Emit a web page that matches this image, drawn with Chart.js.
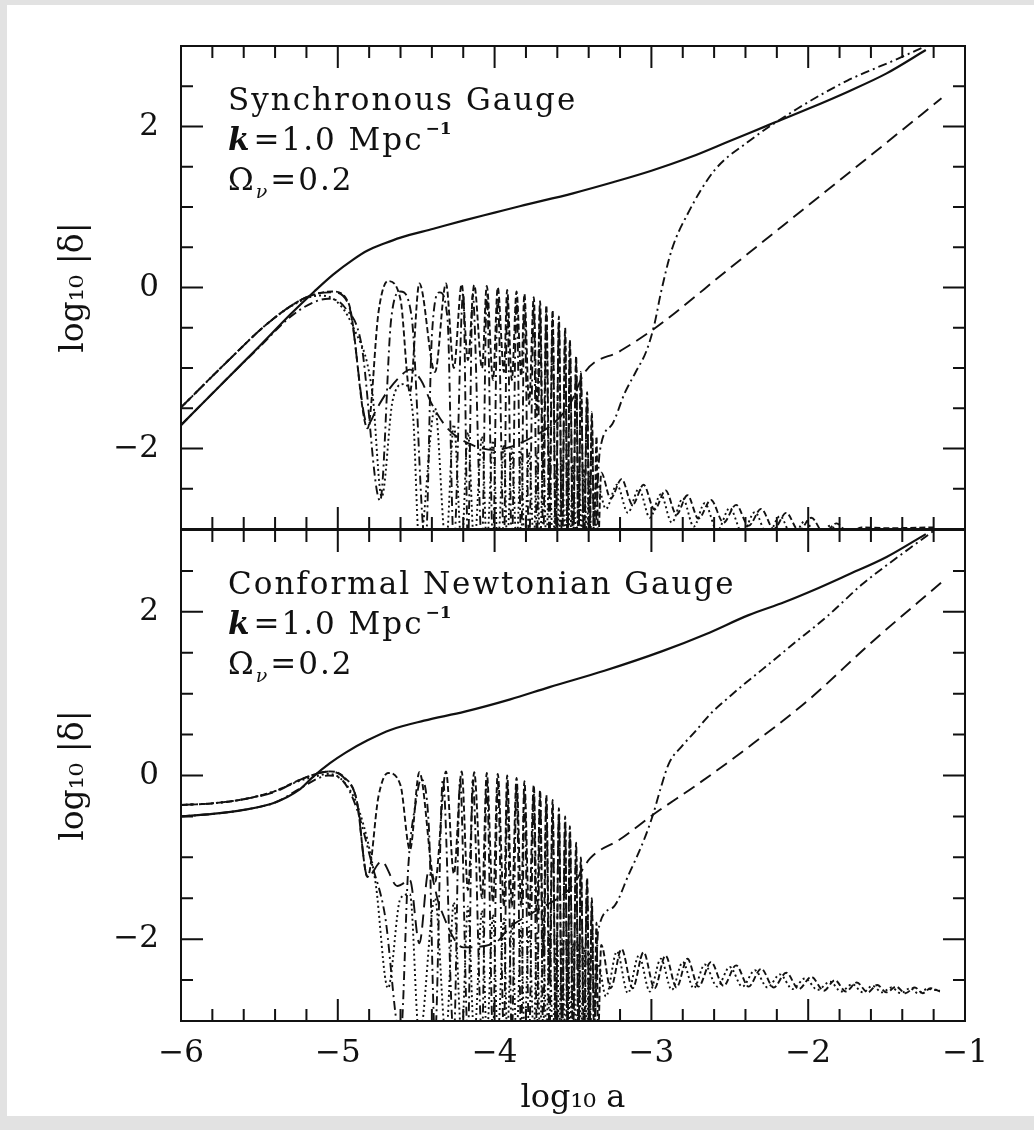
<!DOCTYPE html>
<html>
<head>
<meta charset="utf-8">
<title>log10 |delta| vs log10 a</title>
<script src="https://cdn.jsdelivr.net/npm/chart.js@4.4.0/dist/chart.umd.min.js"></script>
<style>
html, body { margin: 0; padding: 0; background: #e2e2e2; }
#sheet { position: absolute; left: 7px; top: 5px; width: 1027px; height: 1111px; background: #fff; }
canvas { position: absolute; left: 0; top: 0; }
</style>
</head>
<body>
<div id="sheet"></div>
<canvas id="synChart" width="1034" height="1130"></canvas>
<canvas id="conChart" width="1034" height="1130"></canvas>
<script>
// axis ticks
const xTickValues = [-6, -5, -4, -3, -2, -1];
const xMinorTicks = [-5.8, -5.6, -5.4, -5.2, -4.8, -4.6, -4.4, -4.2, -3.8, -3.6, -3.4, -3.2, -2.8, -2.6, -2.4, -2.2, -1.8, -1.6, -1.4, -1.2];
const yTickValues = [-2, 0, 2];
const yMinorTicks = [-2.5, -1.5, -1, -0.5, 0.5, 1, 1.5, 2.5];

// labels
const panelTitles = ['Synchronous Gauge', 'Conformal Newtonian Gauge'];
const waveNumberText = ['k', '=1.0 Mpc', '\u22121'];
const omegaText = ['\u03A9', '\u03BD', '=0.2'];
const yTitle = 'log\u2081\u2080 |\u03B4|';
const xTitle = 'log\u2081\u2080 a';

// top panel: synchronous gauge  [log10 a, log10 |delta|]
const synCdm = [[-6,-1.71],[-5.7,-1.12],[-5.5,-0.73],[-5.3,-0.33],[-5.15,-0.05],[-5.03,0.16],[-4.9,0.35],[-4.81,0.46],[-4.7,0.55],[-4.6,0.62],[-4.39,0.73],[-4.2,0.83],[-4.0,0.93],[-3.84,1.01],[-3.5,1.17],[-3.24,1.31],[-3.0,1.45],[-2.75,1.62],[-2.5,1.82],[-2.25,2.02],[-2.0,2.22],[-1.75,2.43],[-1.5,2.66],[-1.25,2.95]];

const synPhoton = [[-6,-1.49],[-5.7,-0.91],[-5.45,-0.45],[-5.25,-0.17],[-5.12,-0.07],[-5.03,-0.05],[-4.93,-0.2],[-4.81,-1.75],[-4.74,-0.3],[-4.68,0.08],[-4.6,-0.15],[-4.54,-1.3],[-4.48,0.05],[-4.38,-1.05],[-4.31,0.05],[-4.26,-1.0],[-4.21,0.04],[-4.17,-0.9],[-4.13,0.03],[-4.08,-1.0],[-4.05,0.02],[-4.01,-1.15],[-3.98,0.0],[-3.94,-1.05],[-3.92,-0.03],[-3.89,-1.15],[-3.86,-0.05],[-3.83,-1.1],[-3.81,-0.08],[-3.78,-1.45],[-3.75,-0.12],[-3.73,-1.6],[-3.71,-0.17],[-3.69,-2.3],[-3.67,-0.22],[-3.65,-2.6],[-3.63,-0.28],[-3.61,-3.2],[-3.59,-0.36],[-3.57,-3.2],[-3.55,-0.5],[-3.535,-3.2],[-3.52,-0.65],[-3.5,-3.2],[-3.48,-0.85],[-3.465,-3.2],[-3.45,-1.05],[-3.43,-3.2],[-3.41,-1.3],[-3.395,-3.2],[-3.38,-1.55],[-3.365,-3.2],[-3.35,-1.85],[-3.34,-3.2],[-3.32,-2.3],[-3.26,-2.62],[-3.19,-2.38],[-3.12,-2.7],[-3.05,-2.45],[-2.98,-2.76],[-2.91,-2.52],[-2.84,-2.82],[-2.77,-2.58],[-2.7,-2.87],[-2.62,-2.64],[-2.54,-2.92],[-2.46,-2.7],[-2.38,-2.96],[-2.3,-2.75],[-2.22,-3.0],[-2.14,-2.8],[-2.06,-3.02],[-1.98,-2.86],[-1.9,-3.05],[-1.82,-2.93],[-1.74,-3.05],[-1.66,-2.98],[-1.5,-2.99],[-1.2,-2.98]];

const synBaryon = [[-6,-1.71],[-5.7,-1.12],[-5.5,-0.74],[-5.3,-0.36],[-5.15,-0.18],[-5.06,-0.14],[-4.95,-0.26],[-4.85,-0.7],[-4.73,-2.65],[-4.66,-0.4],[-4.6,-0.05],[-4.53,-0.35],[-4.44,-3.2],[-4.4,-0.6],[-4.35,-0.06],[-4.3,-0.4],[-4.26,-3.2],[-4.2,-0.07],[-4.17,-3.2],[-4.14,-0.08],[-4.08,-3.2],[-4.05,-0.1],[-4.01,-3.2],[-3.98,-0.12],[-3.94,-3.2],[-3.92,-0.14],[-3.89,-3.2],[-3.86,-0.16],[-3.83,-3.2],[-3.81,-0.2],[-3.78,-3.2],[-3.75,-0.24],[-3.73,-3.2],[-3.71,-0.28],[-3.69,-3.2],[-3.67,-0.33],[-3.65,-3.2],[-3.63,-0.4],[-3.61,-3.2],[-3.59,-0.48],[-3.57,-3.2],[-3.55,-0.6],[-3.535,-3.2],[-3.52,-0.75],[-3.5,-3.2],[-3.48,-0.95],[-3.465,-3.2],[-3.45,-1.15],[-3.43,-3.2],[-3.41,-1.4],[-3.395,-3.2],[-3.38,-1.65],[-3.365,-3.2],[-3.33,-2.05],[-3.25,-1.7],[-3.17,-1.31],[-3.1,-1.05],[-3.03,-0.78],[-2.98,-0.45],[-2.94,-0.07],[-2.87,0.47],[-2.77,0.91],[-2.6,1.45],[-2.39,1.8],[-2.07,2.22],[-1.75,2.57],[-1.43,2.84],[-1.25,3.0]];

const synNuMassless = [[-6,-1.49],[-5.7,-0.91],[-5.45,-0.45],[-5.25,-0.18],[-5.12,-0.1],[-5.05,-0.12],[-4.9,-0.5],[-4.78,-1.3],[-4.72,-2.6],[-4.65,-1.4],[-4.58,-1.2],[-4.52,-1.6],[-4.48,-3.2],[-4.38,-1.5],[-4.31,-3.2],[-4.26,-1.7],[-4.21,-3.2],[-4.17,-1.8],[-4.13,-3.2],[-4.08,-1.85],[-4.05,-3.2],[-4.01,-1.9],[-3.98,-3.2],[-3.94,-1.95],[-3.92,-3.2],[-3.89,-2.0],[-3.86,-3.2],[-3.83,-2.0],[-3.81,-3.2],[-3.78,-2.05],[-3.75,-3.2],[-3.73,-2.05],[-3.71,-3.2],[-3.69,-2.1],[-3.67,-3.2],[-3.65,-2.1],[-3.63,-3.2],[-3.6,-2.15],[-3.59,-3.2],[-3.57,-2.15],[-3.55,-3.2],[-3.53,-2.2],[-3.52,-3.2],[-3.5,-2.2],[-3.48,-3.2],[-3.46,-2.25],[-3.45,-3.2],[-3.43,-2.25],[-3.41,-3.2],[-3.4,-2.3],[-3.38,-3.2],[-3.35,-2.4],[-3.29,-2.75],[-3.22,-2.45],[-3.15,-2.8],[-3.08,-2.5],[-3.01,-2.86],[-2.94,-2.57],[-2.87,-2.92],[-2.8,-2.62],[-2.73,-2.97],[-2.66,-2.68],[-2.58,-3.02],[-2.5,-2.74],[-2.42,-3.05],[-2.34,-2.79],[-2.26,-3.08],[-2.18,-2.84],[-2.1,-3.1],[-2.02,-2.9],[-1.94,-3.1],[-1.86,-2.96],[-1.78,-3.1],[-1.7,-3.0],[-1.6,-3.05]];

const synNuMassive = [[-6,-1.49],[-5.7,-0.91],[-5.45,-0.45],[-5.25,-0.17],[-5.12,-0.07],[-5.03,-0.06],[-4.93,-0.22],[-4.81,-1.7],[-4.75,-1.5],[-4.69,-1.31],[-4.6,-1.1],[-4.54,-1.02],[-4.47,-1.15],[-4.4,-1.45],[-4.3,-1.75],[-4.15,-1.95],[-4.0,-2.02],[-3.9,-1.98],[-3.76,-1.86],[-3.62,-1.68],[-3.52,-1.45],[-3.42,-1.04],[-3.2,-0.79],[-2.98,-0.51],[-2.5,0.24],[-2.0,1.02],[-1.5,1.8],[-1.15,2.35]];

// bottom panel: conformal Newtonian gauge
const conCdm = [[-6,-0.5],[-5.8,-0.47],[-5.6,-0.42],[-5.4,-0.33],[-5.25,-0.18],[-5.16,-0.02],[-5.05,0.15],[-4.95,0.28],[-4.81,0.43],[-4.66,0.56],[-4.45,0.67],[-4.19,0.78],[-3.9,0.93],[-3.65,1.08],[-3.3,1.28],[-2.93,1.52],[-2.65,1.73],[-2.38,1.96],[-2.15,2.12],[-1.96,2.27],[-1.75,2.45],[-1.5,2.67],[-1.25,2.95]];

const conPhoton = [[-6,-0.36],[-5.8,-0.34],[-5.6,-0.29],[-5.4,-0.19],[-5.25,-0.06],[-5.12,0.03],[-5.05,0.05],[-4.96,-0.02],[-4.88,-0.3],[-4.81,-1.24],[-4.74,-0.25],[-4.68,0.03],[-4.6,-0.12],[-4.54,-0.91],[-4.48,0.04],[-4.38,-1.3],[-4.31,0.05],[-4.26,-1.2],[-4.21,0.05],[-4.17,-1.4],[-4.13,0.04],[-4.08,-1.5],[-4.05,0.03],[-4.01,-1.55],[-3.98,0.02],[-3.94,-1.6],[-3.92,0.0],[-3.89,-1.6],[-3.86,-0.03],[-3.83,-1.6],[-3.81,-0.07],[-3.78,-1.7],[-3.75,-0.12],[-3.73,-1.8],[-3.71,-0.18],[-3.69,-2.2],[-3.67,-0.24],[-3.65,-2.5],[-3.63,-0.3],[-3.61,-3.2],[-3.59,-0.4],[-3.57,-3.2],[-3.55,-0.5],[-3.535,-3.2],[-3.52,-0.62],[-3.5,-3.2],[-3.48,-0.82],[-3.465,-3.2],[-3.45,-1.0],[-3.43,-3.2],[-3.41,-1.25],[-3.395,-3.2],[-3.38,-1.5],[-3.365,-3.2],[-3.35,-1.8],[-3.34,-3.2],[-3.32,-2.07],[-3.26,-2.6],[-3.19,-2.12],[-3.12,-2.6],[-3.05,-2.16],[-2.98,-2.6],[-2.91,-2.2],[-2.84,-2.59],[-2.77,-2.24],[-2.7,-2.58],[-2.62,-2.28],[-2.54,-2.57],[-2.46,-2.32],[-2.38,-2.58],[-2.3,-2.36],[-2.22,-2.59],[-2.14,-2.41],[-2.06,-2.61],[-1.98,-2.46],[-1.9,-2.63],[-1.83,-2.5],[-1.76,-2.64],[-1.69,-2.53],[-1.62,-2.65],[-1.56,-2.56],[-1.5,-2.65],[-1.44,-2.58],[-1.38,-2.66],[-1.32,-2.59],[-1.27,-2.66],[-1.22,-2.6],[-1.16,-2.64]];

const conBaryon = [[-6,-0.5],[-5.8,-0.47],[-5.6,-0.42],[-5.4,-0.33],[-5.25,-0.17],[-5.12,-0.03],[-5.06,0.0],[-4.97,-0.06],[-4.88,-0.4],[-4.78,-1.1],[-4.7,-1.7],[-4.6,-3.2],[-4.55,-1.1],[-4.5,-0.3],[-4.47,-0.05],[-4.42,-0.6],[-4.38,-3.2],[-4.33,-0.05],[-4.26,-3.2],[-4.22,-0.05],[-4.17,-3.2],[-4.14,-0.06],[-4.08,-3.2],[-4.05,-0.07],[-4.01,-3.2],[-3.98,-0.08],[-3.94,-3.2],[-3.92,-0.1],[-3.89,-3.2],[-3.86,-0.13],[-3.83,-3.2],[-3.81,-0.17],[-3.78,-3.2],[-3.75,-0.22],[-3.73,-3.2],[-3.71,-0.28],[-3.69,-3.2],[-3.67,-0.34],[-3.65,-3.2],[-3.63,-0.4],[-3.61,-3.2],[-3.59,-0.5],[-3.57,-3.2],[-3.55,-0.6],[-3.535,-3.2],[-3.52,-0.72],[-3.5,-3.2],[-3.48,-0.92],[-3.465,-3.2],[-3.45,-1.1],[-3.43,-3.2],[-3.41,-1.35],[-3.395,-3.2],[-3.38,-1.6],[-3.365,-3.2],[-3.34,-1.9],[-3.25,-1.62],[-3.14,-1.19],[-3.05,-0.8],[-2.99,-0.48],[-2.94,-0.15],[-2.89,0.14],[-2.8,0.37],[-2.72,0.54],[-2.62,0.76],[-2.51,0.95],[-2.4,1.13],[-2.29,1.3],[-2.1,1.6],[-1.87,1.96],[-1.66,2.33],[-1.45,2.64],[-1.3,2.85],[-1.2,2.99]];

const conNuMassless = [[-6,-0.36],[-5.8,-0.34],[-5.6,-0.29],[-5.4,-0.19],[-5.25,-0.07],[-5.12,0.0],[-5.06,0.02],[-4.96,-0.08],[-4.86,-0.45],[-4.76,-1.3],[-4.68,-2.6],[-4.6,-1.5],[-4.54,-1.45],[-4.48,-3.2],[-4.38,-1.5],[-4.31,-3.2],[-4.26,-1.55],[-4.21,-3.2],[-4.17,-1.6],[-4.13,-3.2],[-4.08,-1.65],[-4.05,-3.2],[-4.01,-1.7],[-3.98,-3.2],[-3.94,-1.75],[-3.92,-3.2],[-3.89,-1.8],[-3.86,-3.2],[-3.83,-1.85],[-3.81,-3.2],[-3.78,-1.85],[-3.75,-3.2],[-3.73,-1.9],[-3.71,-3.2],[-3.69,-1.9],[-3.67,-3.2],[-3.65,-1.95],[-3.63,-3.2],[-3.6,-1.95],[-3.59,-3.2],[-3.57,-2.0],[-3.55,-3.2],[-3.53,-2.0],[-3.52,-3.2],[-3.5,-2.05],[-3.48,-3.2],[-3.46,-2.05],[-3.45,-3.2],[-3.43,-2.1],[-3.41,-3.2],[-3.4,-2.15],[-3.38,-3.2],[-3.34,-2.3],[-3.29,-2.7],[-3.22,-2.15],[-3.15,-2.66],[-3.08,-2.2],[-3.01,-2.64],[-2.94,-2.24],[-2.87,-2.62],[-2.8,-2.28],[-2.73,-2.6],[-2.66,-2.31],[-2.58,-2.58],[-2.5,-2.34],[-2.42,-2.58],[-2.34,-2.38],[-2.26,-2.59],[-2.18,-2.43],[-2.1,-2.61],[-2.02,-2.48],[-1.94,-2.62],[-1.86,-2.52],[-1.79,-2.64],[-1.72,-2.55],[-1.65,-2.65],[-1.59,-2.57],[-1.53,-2.65],[-1.47,-2.59],[-1.41,-2.66],[-1.35,-2.6],[-1.3,-2.66],[-1.24,-2.61],[-1.16,-2.63]];

const conNuMassive = [[-6,-0.36],[-5.8,-0.34],[-5.6,-0.29],[-5.4,-0.2],[-5.25,-0.06],[-5.12,0.03],[-5.05,0.05],[-4.95,-0.05],[-4.88,-0.3],[-4.81,-1.24],[-4.72,-1.05],[-4.62,-1.35],[-4.54,-1.28],[-4.48,-2.05],[-4.42,-1.16],[-4.35,-1.6],[-4.2,-2.1],[-4.0,-2.05],[-3.9,-1.85],[-3.76,-1.68],[-3.51,-1.36],[-3.39,-1.01],[-3.2,-0.78],[-2.99,-0.48],[-2.7,-0.1],[-2.4,0.32],[-2.0,0.92],[-1.6,1.62],[-1.15,2.36]];

const INK = '#111';
const FONT = '"DejaVu Serif", "Liberation Serif", serif';

function lineSet(pairs, dash, width) {
    return {
        data: pairs.map(p => ({ x: p[0], y: p[1] })),
        borderColor: INK,
        borderWidth: width,
        borderDash: dash,
        pointRadius: 0,
        fill: false,
        cubicInterpolationMode: 'monotone'
    };
}

function minus(v) {
    return v < 0 ? '\u2212' + Math.abs(v) : String(v);
}

// frame with inward ticks on all four sides
const framePlugin = {
    id: 'frame',
    afterDatasetsDraw(chart) {
        const { ctx, chartArea: a, scales: { x, y } } = chart;
        ctx.save();
        ctx.strokeStyle = INK;
        ctx.lineWidth = 2;
        ctx.beginPath();
        const hTick = (v, len) => {
            const px = x.getPixelForValue(v);
            ctx.moveTo(px, a.bottom); ctx.lineTo(px, a.bottom - len);
            ctx.moveTo(px, a.top); ctx.lineTo(px, a.top + len);
        };
        const vTick = (v, len) => {
            const py = y.getPixelForValue(v);
            ctx.moveTo(a.left, py); ctx.lineTo(a.left + len, py);
            ctx.moveTo(a.right, py); ctx.lineTo(a.right - len, py);
        };
        xTickValues.forEach(v => hTick(v, 22));
        xMinorTicks.forEach(v => hTick(v, 12));
        yTickValues.forEach(v => vTick(v, 22));
        yMinorTicks.forEach(v => vTick(v, 12));
        ctx.stroke();
        ctx.strokeRect(a.left, a.top, a.right - a.left, a.bottom - a.top);
        ctx.restore();
    }
};

// panel annotation: gauge name, k and Omega_nu
const notesPlugin = {
    id: 'notes',
    afterDraw(chart, args, opts) {
        const { ctx, chartArea: a } = chart;
        const x0 = a.left + 47;
        ctx.save();
        ctx.fillStyle = INK;
        ctx.textBaseline = 'alphabetic';
        ctx.letterSpacing = '2px';
        ctx.font = '31px ' + FONT;
        ctx.fillText(opts.title, x0, a.top + 64);

        let x = x0, y = a.top + 104;
        ctx.font = 'italic bold 31px ' + FONT;
        ctx.fillText(waveNumberText[0], x, y);
        x += ctx.measureText(waveNumberText[0]).width + 2;
        ctx.font = '31px ' + FONT;
        ctx.fillText(waveNumberText[1], x, y);
        x += ctx.measureText(waveNumberText[1]).width + 2;
        ctx.letterSpacing = '0px';
        ctx.font = 'bold 17px ' + FONT;
        ctx.fillText(waveNumberText[2], x, y - 16);

        x = x0; y = a.top + 144;
        ctx.letterSpacing = '2px';
        ctx.font = '31px ' + FONT;
        ctx.fillText(omegaText[0], x, y);
        x += ctx.measureText(omegaText[0]).width;
        ctx.font = 'italic 19px ' + FONT;
        ctx.fillText(omegaText[1], x, y + 8);
        x += ctx.measureText(omegaText[1]).width + 1;
        ctx.font = '31px ' + FONT;
        ctx.fillText(omegaText[2], x, y);
        ctx.restore();
    }
};

function makePanel(canvasId, series, title, isBottom) {
    const dashes = [[], [6, 3], [9, 4, 2, 4], [2, 3], [13, 7]];
    return new Chart(document.getElementById(canvasId), {
        type: 'line',
        data: {
            datasets: series.map((s, i) => lineSet(s, dashes[i], i === 0 ? 2.2 : 1.9))
        },
        options: {
            responsive: false,
            animation: false,
            events: [],
            layout: {
                padding: isBottom
                    ? { left: 0, top: 530, right: 69, bottom: 0 }
                    : { left: 0, top: 46, right: 69, bottom: 601 }
            },
            plugins: {
                legend: { display: false },
                tooltip: { enabled: false },
                notes: { title: title }
            },
            scales: {
                x: {
                    type: 'linear',
                    min: -6,
                    max: -1,
                    afterBuildTicks: s => { s.ticks = xTickValues.map(v => ({ value: v })); },
                    afterFit: s => { s.height = isBottom ? 109 : 0; },
                    grid: { display: false, drawTicks: false },
                    border: { display: false },
                    ticks: {
                        display: isBottom,
                        padding: 14,
                        maxRotation: 0,
                        color: INK,
                        font: { family: FONT, size: 31 },
                        callback: v => minus(v)
                    },
                    title: {
                        display: isBottom,
                        text: xTitle,
                        color: INK,
                        font: { family: FONT, size: 32 },
                        padding: { top: 0, bottom: 12 }
                    }
                },
                y: {
                    min: -3,
                    max: 3,
                    afterBuildTicks: s => { s.ticks = yTickValues.map(v => ({ value: v })); },
                    afterFit: s => { s.width = 181; },
                    grid: { display: false, drawTicks: false },
                    border: { display: false },
                    ticks: {
                        padding: 22,
                        color: INK,
                        font: { family: FONT, size: 31 },
                        callback: v => minus(v)
                    },
                    title: {
                        display: true,
                        text: yTitle,
                        color: INK,
                        font: { family: FONT, size: 33 },
                        padding: { top: 55, bottom: 0 }
                    }
                }
            }
        },
        plugins: [framePlugin, notesPlugin]
    });
}

makePanel('synChart', [synCdm, synPhoton, synBaryon, synNuMassless, synNuMassive], panelTitles[0], false);
makePanel('conChart', [conCdm, conPhoton, conBaryon, conNuMassless, conNuMassive], panelTitles[1], true);
</script>
</body>
</html>
